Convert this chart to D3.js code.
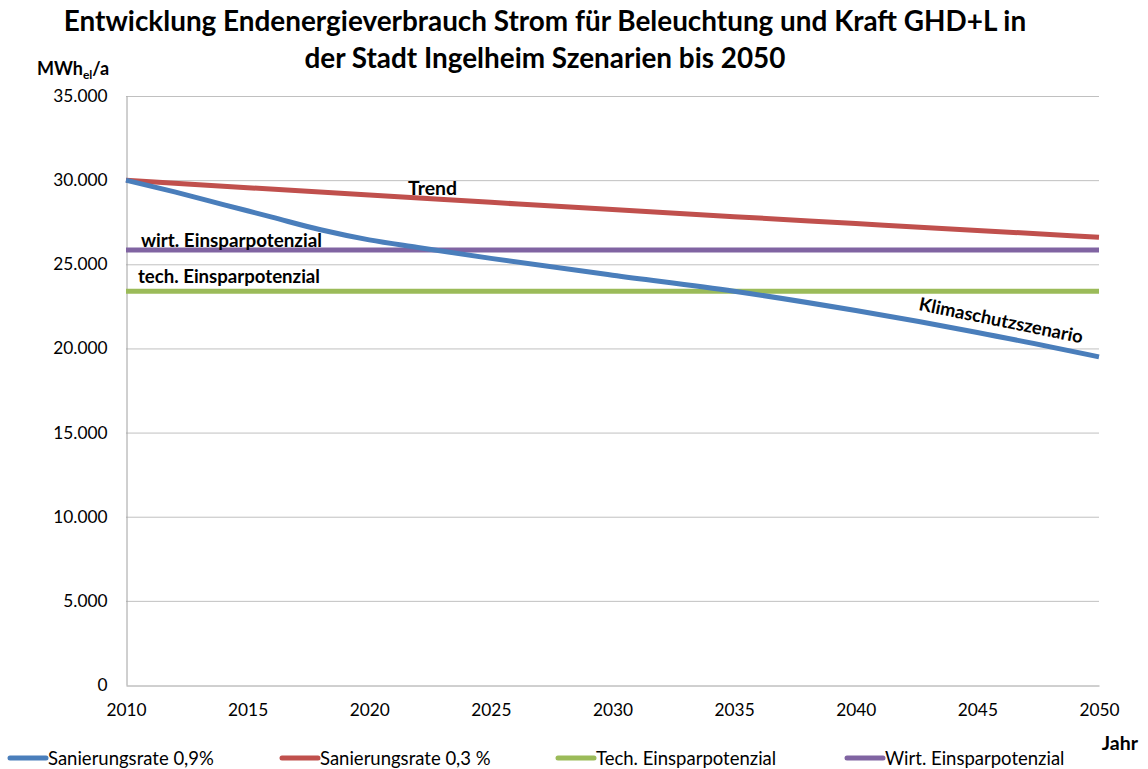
<!DOCTYPE html>
<html><head><meta charset="utf-8">
<script src="https://cdn.jsdelivr.net/npm/d3@7"></script>
<style>
html,body{margin:0;padding:0;background:#fff;}
svg{display:block;font-family:Lato,"Open Sans",sans-serif;}
</style></head>
<body>
<svg id="c" width="1148" height="769"></svg>
<script>
const years = [2010,2015,2020,2025,2030,2035,2040,2045,2050];
const yTicks = [0,5000,10000,15000,20000,25000,30000,35000];
const blueYears = [2010,2012,2014,2016,2018,2020,2022,2025,2030,2035,2040,2045,2050];
const blueVals  = [30000,29300,28550,27800,27050,26450,26000,25350,24350,23400,22250,20950,19500];
const redYears  = [2010,2015,2020,2025,2030,2035,2040,2045,2050];
const redVals   = [30000,29550,29110,28680,28250,27830,27420,27010,26610];
const techYears = [2010,2050];
const techVals  = [23400,23400];
const wirtYears = [2010,2050];
const wirtVals  = [25850,25850];
const seriesNames = ["Sanierungsrate 0,9%","Sanierungsrate 0,3 %","Tech. Einsparpotenzial","Wirt. Einsparpotenzial"];
const colors = ["#4a7ebb","#c0504d","#9bbb59","#8064a2"];

const svg = d3.select("#c");
const x = d3.scaleLinear().domain([2010,2050]).range([126,1099]);
const y = d3.scaleLinear().domain([0,35000]).range([685,96]);
const fmt = v => v===0 ? "0" : d3.format(",")(v).replace(/,/g,".");

function fit(sel, target){
  const w = sel.node().getComputedTextLength();
  const fs = parseFloat(sel.attr("font-size"));
  sel.attr("font-size", fs*target/w);
}

// grid
svg.append("g").selectAll("line").data(yTicks.filter(d=>d>0)).join("line")
  .attr("x1",x(2010)).attr("x2",x(2050)).attr("y1",d=>y(d)+0.5).attr("y2",d=>y(d)+0.5)
  .attr("stroke","#c0c0c0").attr("stroke-width",1);

// axes
const yAxis = svg.append("g").attr("transform",`translate(${x(2010)+0.5},0)`)
  .call(d3.axisLeft(y).tickValues(yTicks).tickFormat(fmt).tickSize(0).tickPadding(19));
yAxis.select(".domain").attr("stroke","#a0a0a0");
yAxis.selectAll("text").attr("font-size",17.3).attr("fill","#000").attr("font-family","Lato,sans-serif");
const xAxis = svg.append("g").attr("transform",`translate(0,${y(0)+0.5})`)
  .call(d3.axisBottom(x).tickValues(years).tickFormat(d3.format("d")).tickSize(0).tickPadding(18));
xAxis.select(".domain").attr("stroke","#a0a0a0");
xAxis.selectAll("text").attr("font-size",17.3).attr("fill","#000").attr("font-family","Lato,sans-serif");

// lines
const line = d3.line().x(d=>x(d[0])).y(d=>y(d[1])).curve(d3.curveMonotoneX);
const data = [
  d3.zip(blueYears,blueVals), d3.zip(redYears,redVals),
  d3.zip(techYears,techVals), d3.zip(wirtYears,wirtVals)
];
[2,3,1,0].forEach(i=>{
  svg.append("path").attr("d",line(data[i])).attr("fill","none")
    .attr("stroke",colors[i]).attr("stroke-width",5).attr("stroke-linejoin","round");
});

// annotations
function label(t,xx,yy,w,rot){
  const s = svg.append("text").attr("x",xx).attr("y",yy).attr("font-size",16)
    .attr("font-weight","bold").text(t);
  if(w) fit(s,w);
  if(rot) s.attr("transform",`rotate(${rot},${xx},${yy})`);
  return s;
}
label("Trend",408,195,49);
label("wirt. Einsparpotenzial",141,247,181);
label("tech. Einsparpotenzial",138,283,182);
label("Klimaschutzszenario",918,310,167,11.5);

// title
const t1 = svg.append("text").attr("x",545).attr("y",31).attr("text-anchor","middle")
  .attr("font-size",25).attr("font-weight","bold").text("Entwicklung Endenergieverbrauch Strom für Beleuchtung und Kraft GHD+L in");
fit(t1,963);
const t2 = svg.append("text").attr("x",545).attr("y",68).attr("text-anchor","middle")
  .attr("font-size",t1.attr("font-size")).attr("font-weight","bold").text("der Stadt Ingelheim Szenarien bis 2050");

// y unit
const u = svg.append("text").attr("x",37).attr("y",75).attr("font-size",18).attr("font-weight","bold");
u.append("tspan").text("MWh");
u.append("tspan").attr("font-size",12).attr("dy",4).text("el");
u.append("tspan").attr("dy",-4).text("/a");

// Jahr
svg.append("text").attr("x",1138).attr("y",750).attr("text-anchor","end")
  .attr("font-size",19.5).attr("font-weight","bold").text("Jahr");

// legend
const legX = [10,282,558,847];
const legW = [168,183,186,182];
const leg = svg.append("g").selectAll("g").data(seriesNames).join("g")
  .attr("transform",(d,i)=>`translate(${legX[i]},758)`);
leg.append("line").attr("x1",0).attr("x2",36).attr("y1",0).attr("y2",0)
  .attr("stroke",(d,i)=>colors[i]).attr("stroke-width",5).attr("stroke-linecap","round");
leg.append("text").attr("x",38).attr("y",6.5).attr("font-size",18.5).text(d=>d);
</script>
</body></html>
